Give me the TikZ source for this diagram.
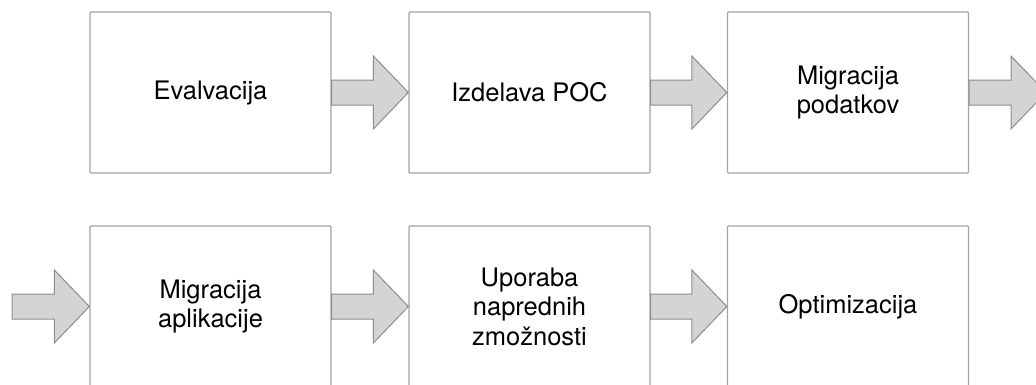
\documentclass[tikz,border=0pt]{standalone}
\usepackage{fontspec}
\setmainfont{TeX Gyre Heros}
\usetikzlibrary{calc}
\definecolor{boxline}{HTML}{A3A3A3}
\definecolor{arrfill}{HTML}{D4D4D4}
\definecolor{arrline}{HTML}{8E8E8E}
\tikzset{
  stepbox/.style={draw=boxline, line width=1.3pt, rounded corners=1pt, fill=white,
    minimum width=241pt, minimum height=161pt, inner sep=0pt, align=center,
    font=\fontsize{25.5}{29.5}\selectfont},
  bigarrow/.style={draw=arrline, fill=arrfill, line width=1pt, line join=miter}
}
\newcommand{\fatarrow}[2]{%
  \path[bigarrow] let \p1=(#1), \p2=(#2) in
    (\x1,\y1+12.5pt) -- (\x2-35pt,\y1+12.5pt) -- (\x2-35pt,\y1+36.5pt) -- (\x2,\y1)
    -- (\x2-35pt,\y1-36.5pt) -- (\x2-35pt,\y1-12.5pt) -- (\x1,\y1-12.5pt) -- cycle;}
\begin{document}
\begin{tikzpicture}[x=1pt,y=-1pt]
\clip (0,0) rectangle (1036,384);
\fill[white] (0,0) rectangle (1036,384);
\node[stepbox] (b1) at (210.5,92.5) {Evalvacija};
\node[stepbox] (b2) at (529.5,92.5) {Izdelava POC};
\node[stepbox] (b3) at (848,92.5) {Migracija\\podatkov};
\node[stepbox] (b4) at (210.5,306.5) {Migracija\\aplikacije};
\node[stepbox] (b5) at (529.5,306.5) {Uporaba\\naprednih\\zmožnosti};
\node[stepbox] (b6) at (848,306.5) {Optimizacija};
\coordinate (out) at (1046,92.5);
\coordinate (in) at (12,306.5);
\fatarrow{b1.east}{b2.west}
\fatarrow{b2.east}{b3.west}
\fatarrow{b3.east}{out}
\fatarrow{in}{b4.west}
\fatarrow{b4.east}{b5.west}
\fatarrow{b5.east}{b6.west}
\end{tikzpicture}
\end{document}
